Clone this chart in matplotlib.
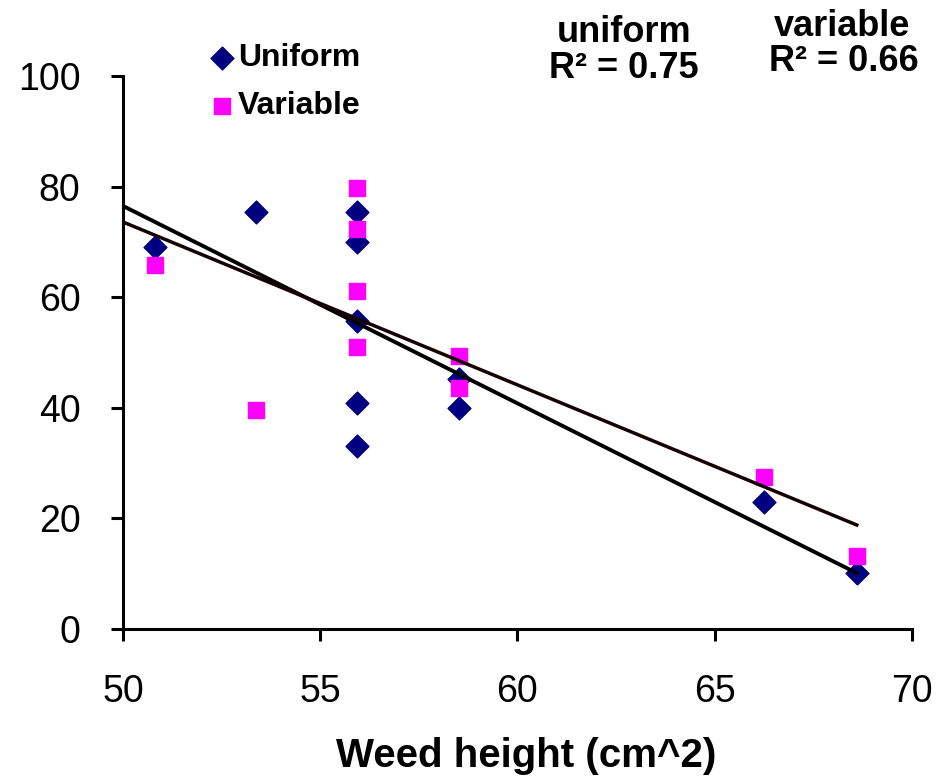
import numpy as np
import matplotlib.pyplot as plt

plt.rcParams['font.family'] = ['Liberation Sans', 'DejaVu Sans']

# Uniform series (diamonds)
uni_x = [50.8, 53.37, 55.93, 55.93, 55.93, 55.93, 55.93, 58.52, 58.52, 66.25, 68.6]
uni_y = [69.1, 75.4, 75.4, 70.0, 55.7, 40.9, 33.1, 45.2, 40.0, 23.0, 10.1]

# Variable series (squares)
var_x = [50.8, 53.37, 55.93, 55.93, 55.93, 55.93, 58.52, 58.52, 66.25, 68.6]
var_y = [65.8, 39.6, 79.7, 72.3, 61.1, 51.0, 49.4, 43.6, 27.5, 13.2]

# Trendlines (value at x=50 and at x=68.6)
trend_x = [50, 68.6]
uni_trend = [76.5, 10.1]
var_trend = [73.6, 18.8]

fig = plt.figure(figsize=(9.51, 7.82), dpi=100)
ax = fig.add_axes([0.1293, 0.1957, 0.8297, 0.7071])

ax.plot(trend_x, uni_trend, color='black', linewidth=2.8, zorder=3)
ax.plot(trend_x, var_trend, color='#140000', linewidth=2.5, zorder=3)

ax.scatter(uni_x, uni_y, marker='D', s=135, color='#000080', zorder=2, label='Uniform')
ax.scatter(var_x, var_y, marker='s', s=120, color='#FF00FF', zorder=2, label='Variable')

ax.set_xlim(50, 70)
ax.set_ylim(0, 100)
ax.set_xticks([50, 55, 60, 65, 70])
ax.set_yticks([0, 20, 40, 60, 80, 100])
ax.tick_params(axis='both', labelsize=27, width=2.2, length=8.6, direction='out')
ax.tick_params(axis='x', pad=24)
ax.tick_params(axis='y', pad=22)
for s in ['top', 'right']:
    ax.spines[s].set_visible(False)
for s in ['left', 'bottom']:
    ax.spines[s].set_linewidth(2.2)

ax.set_xlabel('Weed height (cm^2)', fontsize=29, fontweight='bold')
ax.xaxis.set_label_coords(0.511, -0.196)

leg = ax.legend(loc='upper left', bbox_to_anchor=(0.2, 0.965), bbox_transform=fig.transFigure,
                frameon=False, prop={'size': 23, 'weight': 'bold'}, handletextpad=0.0,
                labelspacing=0.55, markerscale=1.0, handlelength=1.0, borderpad=0)

fig.text(0.656, 0.959, 'uniform', fontsize=26, fontweight='bold', ha='center', va='center')
fig.text(0.656, 0.912, 'R² = 0.75', fontsize=26, fontweight='bold', ha='center', va='center')
fig.text(0.885, 0.966, 'variable', fontsize=26, fontweight='bold', ha='center', va='center')
fig.text(0.887, 0.921, 'R² = 0.66', fontsize=26, fontweight='bold', ha='center', va='center')

plt.savefig('out.png', dpi=100)
